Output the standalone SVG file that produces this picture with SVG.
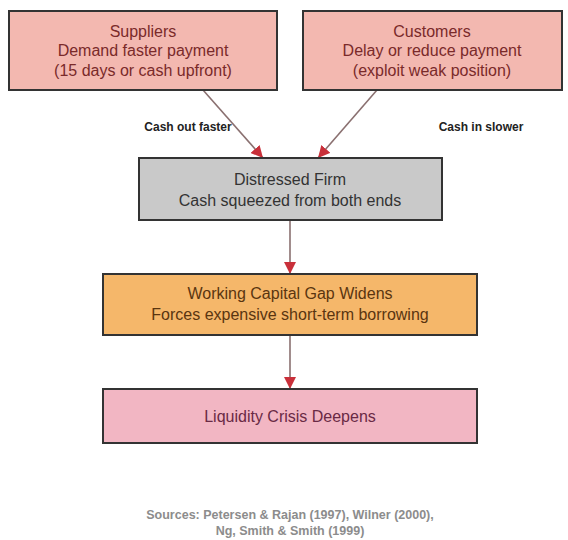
<svg xmlns="http://www.w3.org/2000/svg" width="568" height="540" viewBox="0 0 568 540">
<defs>
<marker id="ah" viewBox="0 0 10 10" refX="10" refY="5" markerWidth="12" markerHeight="12" markerUnits="userSpaceOnUse" orient="auto">
<path d="M0,0 L10,5 L0,10 z" fill="#c9303a"/>
</marker>
<style>
.box{stroke:#333;stroke-width:2}
.t{font-family:"Liberation Sans",Arial,sans-serif;font-size:16px;text-anchor:middle}
.lbl{font-family:"Liberation Sans",Arial,sans-serif;font-size:12px;font-weight:bold;fill:#222;text-anchor:middle}
.src{font-family:"Liberation Sans",Arial,sans-serif;font-size:12.5px;font-weight:bold;fill:#8c8c8c;text-anchor:middle}
.edge{stroke:#8a7070;stroke-width:1.6;fill:none;marker-end:url(#ah)}
</style>
</defs>
<rect width="568" height="540" fill="#fff"/>
<g id="connectors">
<line class="edge" x1="203" y1="90" x2="263" y2="158"/>
<line class="edge" x1="377" y1="90" x2="318" y2="158"/>
<line class="edge" x1="290" y1="220" x2="290" y2="274"/>
<line class="edge" x1="290" y1="335" x2="290" y2="389"/>
<text class="lbl" x="188" y="131">Cash out faster</text>
<text class="lbl" x="481" y="131">Cash in slower</text>
</g>
<g id="suppliers">
<rect class="box" x="9" y="11" width="268" height="79" fill="#f3b8b0"/>
<text class="t" fill="#7a2a2a" x="143" y="37">Suppliers</text>
<text class="t" fill="#7a2a2a" x="143" y="56">Demand faster payment</text>
<text class="t" fill="#7a2a2a" x="143" y="76">(15 days or cash upfront)</text>
</g>
<g id="customers">
<rect class="box" x="303" y="11" width="259" height="79" fill="#f3b8b0"/>
<text class="t" fill="#7a2a2a" x="432" y="37">Customers</text>
<text class="t" fill="#7a2a2a" x="432" y="56">Delay or reduce payment</text>
<text class="t" fill="#7a2a2a" x="432" y="76">(exploit weak position)</text>
</g>
<g id="distressed">
<rect class="box" x="139" y="158" width="303" height="62" fill="#c9c9c9"/>
<text class="t" fill="#333" x="290" y="185">Distressed Firm</text>
<text class="t" fill="#333" x="290" y="206">Cash squeezed from both ends</text>
</g>
<g id="gap">
<rect class="box" x="103" y="274" width="374" height="61" fill="#f5b76a"/>
<text class="t" fill="#5a3510" x="290" y="299">Working Capital Gap Widens</text>
<text class="t" fill="#5a3510" x="290" y="320">Forces expensive short-term borrowing</text>
</g>
<g id="crisis">
<rect class="box" x="103" y="389" width="374" height="54" fill="#f2b6c3"/>
<text class="t" fill="#6a2a45" x="290" y="422">Liquidity Crisis Deepens</text>
</g>
<g id="sources">
<text class="src" x="290" y="519">Sources: Petersen &amp; Rajan (1997), Wilner (2000),</text>
<text class="src" x="290" y="535">Ng, Smith &amp; Smith (1999)</text>
</g>
</svg>
